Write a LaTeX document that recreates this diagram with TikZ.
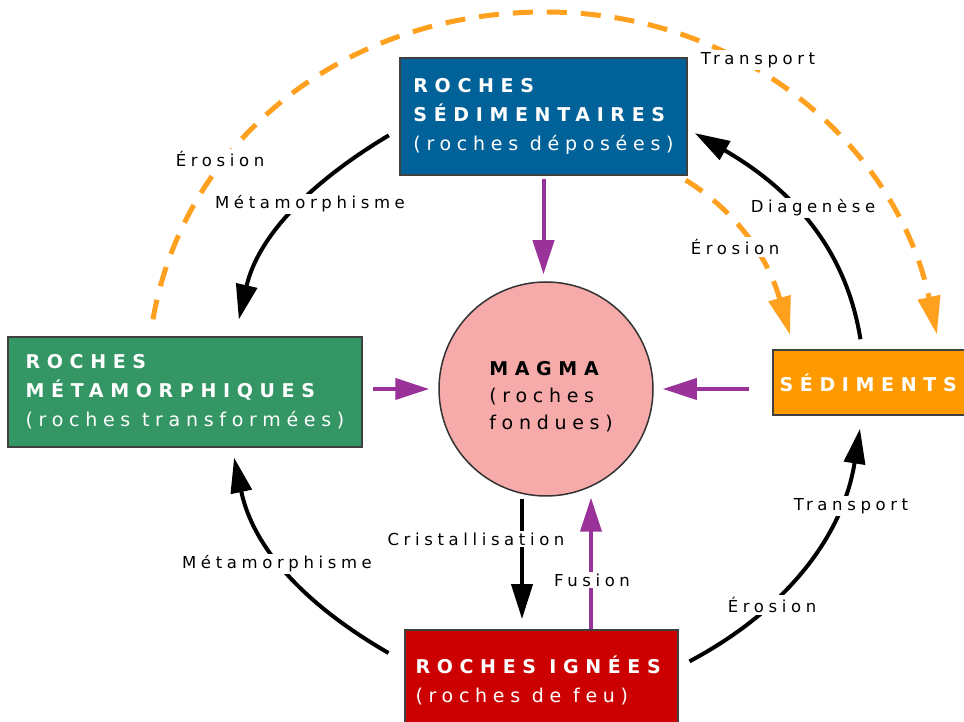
\documentclass[tikz,border=0pt]{standalone}
\usepackage{fontspec}
\usetikzlibrary{arrows.meta, positioning, calc}
\newfontfamily\rockfont[LetterSpace=35]{DejaVu Sans}
\newfontfamily\rocklight[LetterSpace=30]{DejaVu Sans}
\newfontfamily\stepfont[LetterSpace=28]{DejaVu Sans}
\definecolor{sedblue}{RGB}{0,98,152}
\definecolor{metagreen}{RGB}{52,150,100}
\definecolor{ignred}{RGB}{204,0,0}
\definecolor{sedorange}{RGB}{255,153,0}
\definecolor{magmapink}{RGB}{247,170,170}
\definecolor{fusionpurple}{RGB}{153,51,153}
\definecolor{dashorange}{RGB}{255,160,30}

\tikzset{
  rockbox/.style={draw=black!75, line width=1.8pt, text=white, align=left, inner sep=0pt,
                  font=\rockfont\fontsize{19}{29}\selectfont},
  cyclearrow/.style={line width=4pt, -{Triangle[length=35pt, width=21pt]}},
  meltarrow/.style={draw=fusionpurple, line width=4pt, -{Triangle[length=34pt, width=21pt]}},
  erosionarrow/.style={draw=dashorange, line width=5pt, dash pattern=on 20pt off 14pt,
                       -{Triangle[length=38pt, width=22pt]}},
  steplabel/.style={fill=white, inner sep=2pt, font=\stepfont\fontsize{16.5}{19}\selectfont},
}

\begin{document}
\begin{tikzpicture}[x=1pt, y=1pt]
  \useasboundingbox (0,0) rectangle (964,722);
  \fill[white] (0,0) rectangle (964,722);

  % les familles de roches
  \node[rockbox, fill=sedblue, minimum width=287pt, minimum height=117pt] (sed) at (543.5,605.5)
    {\textbf{ROCHES}\\\textbf{SÉDIMENTAIRES}\\{\rocklight(roches déposées)}};
  \node[rockbox, fill=metagreen, minimum width=354pt, minimum height=110pt] (meta) at (185,330)
    {\textbf{ROCHES}\\\textbf{MÉTAMORPHIQUES}\\{\rocklight(roches transformées)}};
  \node[rockbox, fill=ignred, minimum width=273pt, minimum height=100pt] (ign) at (541.5,42)
    {\textbf{ROCHES IGNÉES}\\{\rocklight(roches de feu)}};
  \node[rockbox, fill=sedorange, minimum width=197pt, minimum height=65pt] (sedi) at (871.5,339.5)
    {\textbf{SÉDIMENTS}};
  \node[circle, draw=black!80, line width=1.5pt, fill=magmapink, minimum size=214pt] (magma) at (546,333) {};
  \node[align=left, inner sep=0pt, font=\rocklight\fontsize{19}{27}\selectfont] (magmatext)
    at ([xshift=5pt, yshift=-8pt]magma.center) {{\rockfont\bfseries MAGMA}\\(roches\\fondues)};

  % erosion et transport (tirets)
  \coordinate (apex) at (545,710);
  \draw[erosionarrow, shorten <=17pt, shorten >=15pt] ([xshift=-35pt]meta.north)
    to[out=80, in=180] (apex) to[out=0, in=102] ([xshift=68.5pt]sedi.north);
  \draw[erosionarrow, shorten <=8pt, shorten >=15pt] ([xshift=-9pt]sed.south east)
    to[out=-32, in=106] ([xshift=22pt]sedi.north west);

  % le cycle exterieur
  \draw[cyclearrow, shorten <=12pt, shorten >=17pt] (sed.185) to[out=211, in=77] ([xshift=50pt]meta.north);
  \draw[cyclearrow, shorten <=10pt, shorten >=8pt] ([xshift=-9.5pt]sedi.north) to[out=99, in=330] (sed.-5);
  \draw[cyclearrow, shorten <=12pt, shorten >=13pt] ([yshift=13pt]ign.east) to[out=28, in=261] ([xshift=-9.5pt]sedi.south);
  \draw[cyclearrow, shorten <=18pt, shorten >=10pt] ([yshift=18pt]ign.west) to[out=150, in=282] ([xshift=47pt]meta.south);

  % vers et depuis le magma
  \draw[cyclearrow, shorten <=2pt, shorten >=10pt] ([xshift=-24pt]magma.south) -- ([xshift=-24pt]magma.south |- ign.north);
  \draw[meltarrow, shorten >=1pt] ([xshift=49.5pt]ign.north) -- ([xshift=49.5pt]ign.north |- magma.south);
  \draw[meltarrow, shorten <=3pt, shorten >=7pt] (sed.south) -- (sed.south |- magma.north);
  \draw[meltarrow, shorten <=10pt, shorten >=9pt] (magma.west -| meta.east) -- (magma.west);
  \draw[meltarrow, shorten <=23pt, shorten >=9pt] (magma.east -| sedi.west) -- (magma.east);

  % etiquettes
  \node[steplabel] (metahaut) at (310,518) {Métamorphisme};
  \node[steplabel] (erohaut) at (220,563) {Érosion};
  \node[steplabel] (transhaut) at (758,662) {Transport};
  \node[steplabel] (diag) at (813,514) {Diagenèse};
  \node[steplabel] (eromil) at (735,475) {Érosion};
  \node[steplabel] (transbas) at (851,216) {Transport};
  \node[steplabel] (erobas) at (772,117) {Érosion};
  \node[steplabel] (metabas) at (277,158) {Métamorphisme};
  \node[steplabel] (crist) at (476,183) {Cristallisation};
  \node[steplabel] (fusion) at (592,142) {Fusion};
\end{tikzpicture}
\end{document}
